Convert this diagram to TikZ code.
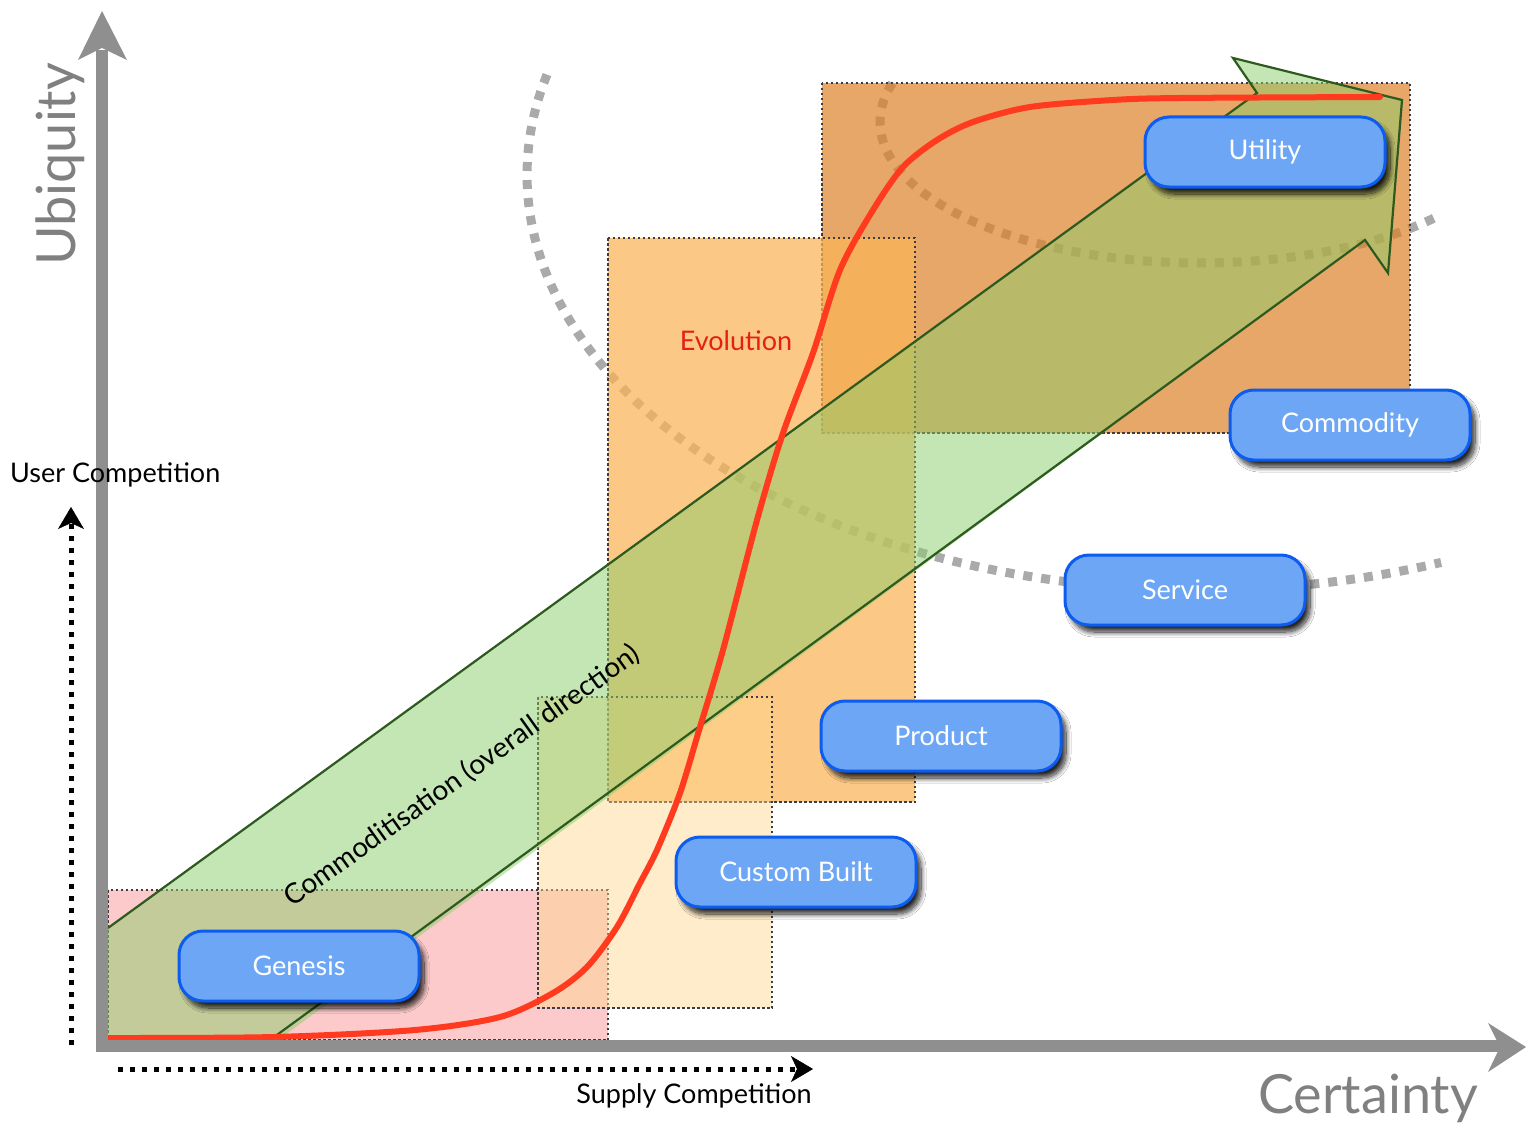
\documentclass[tikz,border=0pt]{standalone}
\usepackage{fontspec}
\setmainfont{Lato}
\usetikzlibrary{arrows.meta,shadows,shadows.blur}
\definecolor{axisgray}{RGB}{143,143,143}
\definecolor{arcgray}{RGB}{170,170,170}
\definecolor{boxfill}{RGB}{108,166,245}
\definecolor{boxline}{RGB}{12,92,240}
\definecolor{evored}{RGB}{228,32,22}
\definecolor{curvered}{RGB}{255,58,30}
\definecolor{greenfill}{RGB}{139,205,107}
\definecolor{greenline}{RGB}{45,90,30}
\definecolor{pinkfill}{RGB}{250,150,150}
\definecolor{creamfill}{RGB}{253,215,140}
\definecolor{evofill}{RGB}{251,180,86}
\definecolor{commfill}{RGB}{220,130,40}
\definecolor{rectline}{RGB}{60,60,66}
\definecolor{titlegray}{RGB}{128,128,128}
\begin{document}
\begin{tikzpicture}[x=1pt,y=-1pt,
  stagebox/.style={draw=boxline, line width=3pt, fill=boxfill, rounded corners=24pt,
    minimum width=240pt, minimum height=70pt, text=white, inner sep=0pt,
    font=\fontsize{27}{30}\selectfont,
    blur shadow={shadow xshift=5pt, shadow yshift=-7pt, shadow blur radius=5pt, shadow blur steps=12, shadow opacity=85}},
  zonerect/.style={draw=rectline, line width=2.5pt, dash pattern=on 2.5pt off 2.5pt},
  arcline/.style={draw=arcgray, line width=9pt, dash pattern=on 9pt off 9pt},
  axisline/.style={draw=axisgray, line width=12pt},
  axishead/.style={fill=axisgray},
  dotarrow/.style={draw=black, line width=5pt, dash pattern=on 5pt off 7pt,
    -{Stealth[length=22pt,width=26pt,inset=6pt,line width=0.5pt]}},
  lbl/.style={font=\fontsize{27}{30}\selectfont, inner sep=0pt},
  biglbl/.style={font=\fontsize{54}{60}\selectfont, inner sep=0pt, text=titlegray}
]
\fill[white] (0,0) rectangle (1526,1129);
\useasboundingbox (0,0) rectangle (1526,1129);

% dashed gray arcs
\draw[arcline] plot[domain=194:69, samples=200] ({1200+673*cos(\x)},{175+415*sin(\x)});
\draw[arcline] plot[domain=196:43, samples=160] ({1200+320*cos(\x)},{122+141*sin(\x)});

% zones
\path[zonerect, fill=pinkfill, fill opacity=0.5] (108,890) rectangle (608,1040);
\path[zonerect, fill=commfill, fill opacity=0.7] (822,83) rectangle (1410,433);
\path[zonerect, fill=evofill, fill opacity=0.72] (608,238) rectangle (915,802);
\path[zonerect, fill=creamfill, fill opacity=0.45] (538,697) rectangle (772,1008);

% commoditisation arrow
\fill[greenfill, fill opacity=0.5] (108,928) -- (1257,93) -- (1233,58) -- (1402,100) -- (1388,273) -- (1365,240) -- (270,1046) -- (108,1046) -- cycle;
\draw[greenline, line width=2.2pt, line join=miter] (108,928) -- (1257,93) -- (1233,58) -- (1402,100) -- (1388,273) -- (1365,240) -- (270,1040);

% evolution curve
\draw[curvered, line width=6pt, line cap=round] plot[smooth, tension=0.5] coordinates {
 (108,1038) (274,1037) (415,1030) (500,1017) (553,993) (587,967) (617,927) (640,883)
 (657,850) (680,793) (700,727) (723,650) (757,520) (783,433) (813,353) (840,270)
 (873,210) (903,167) (937,140) (973,122) (1030,107) (1113,100) (1180,98) (1380,97)};

% axes
\draw[axisline] (102,1052) -- (102,50);
\fill[axishead] (102,11) -- (127,60) -- (102,48) -- (78,60) -- cycle;
\draw[axisline] (96,1046) -- (1502,1046);
\fill[axishead] (1526,1047) -- (1488,1072) -- (1500,1047) -- (1488,1023) -- cycle;

% competition arrows
\coordinate (ucstart) at (71,1045);
\coordinate (ucend) at (71,507);
\coordinate (scstart) at (118,1069);
\coordinate (scend) at (813,1069);
\draw[dotarrow] (ucstart) -- (ucend);
\draw[dotarrow] (scstart) -- (scend);

% labels
\node[lbl, anchor=base west] (usercomp) at (10,482) {User Competition};
\node[lbl, anchor=base] (supplycomp) at (694,1103) {Supply Competition};
\node[biglbl, anchor=base west] (certainty) at (1258,1113) {Certainty};
\node[biglbl, anchor=base west, rotate=90] (ubiquity) at (75,266) {Ubiquity};
\node[lbl, text=evored] (evolution) at (736,341) {Evolution};
\node[lbl, font=\fontsize{28}{30}\selectfont, rotate=35.5] (commod) at (462,776) {Commoditisation (overall direction)};

% stages
\node[stagebox] (utility) at (1265,152) {Utility};
\node[stagebox] (commodity) at (1350,425) {Commodity};
\node[stagebox] (service) at (1185,590) {Service};
\node[stagebox] (product) at (941,736) {Product};
\node[stagebox] (custom) at (796,872) {Custom Built};
\node[stagebox] (genesis) at (299,966) {Genesis};
\end{tikzpicture}
\end{document}
